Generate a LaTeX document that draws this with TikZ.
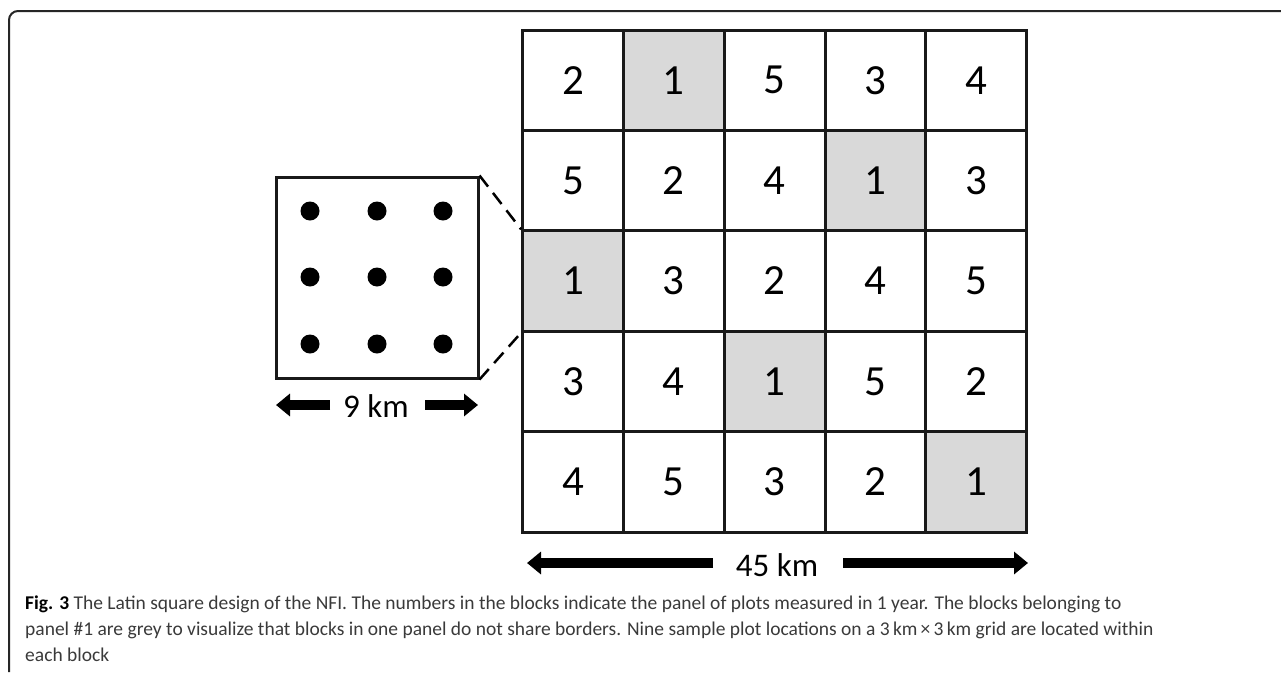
\documentclass[tikz,border=0pt]{standalone}
\usepackage{fontspec}
\setmainfont{Carlito}
\newfontfamily\capfont{Carlito}
\usetikzlibrary{arrows.meta}
\definecolor{cellgrey}{HTML}{D9D9D9}
\definecolor{captxt}{HTML}{3A3A3A}
\tikzset{
  cell/.style={draw=black!90, line width=3pt, minimum width=100.8pt, minimum height=100.4pt, inner sep=0pt, font=\fontsize{43}{43}\selectfont},
  hl/.style={fill=cellgrey},
  dot/.style={circle, fill=black, minimum size=19pt, inner sep=0pt},
  zoombox/.style={draw=black!90, line width=3pt, minimum width=202pt, minimum height=201pt, inner sep=0pt},
  fatarrow/.style={line width=10.5pt, -{Triangle[length=14pt,width=22pt]}},
  leader/.style={dash pattern=on 14pt off 8pt, line width=2.5pt},
  lbl/.style={font=\fontsize{33}{33}\selectfont, inner sep=0pt},
  capline/.style={anchor=base west, inner sep=0pt, text=captxt, font=\capfont\fontsize{19.5}{19.5}\selectfont}
}
\begin{document}
\begin{tikzpicture}[x=1pt,y=-1pt]
\useasboundingbox (0,0) rectangle (1281,672);
\fill[white] (0,0) rectangle (1281,672);
% frame
\draw[line width=2pt, black!85, rounded corners=9pt] (9,672) -- (9,11) -- (1281,11);
% grid
\foreach \row/\vals/\g in {1/{2,1,5,3,4}/2, 2/{5,2,4,1,3}/4, 3/{1,3,2,4,5}/1, 4/{3,4,1,5,2}/3, 5/{4,5,3,2,1}/5}{
  \foreach \v [count=\col] in \vals {
    \ifnum\col=\g
      \node[cell,hl] (c-\row-\col) at ({522.6+100.8*(\col-0.5)},{30+100.4*(\row-0.5)}) {\v};
    \else
      \node[cell] (c-\row-\col) at ({522.6+100.8*(\col-0.5)},{30+100.4*(\row-0.5)}) {\v};
    \fi
  }
}
% zoom box
\node[zoombox] (zb) at (377,277.5) {};
\foreach \i/\x in {1/310,2/377,3/443}{
  \foreach \j/\y in {1/211,2/277,3/344}{
    \node[dot] (d-\i-\j) at (\x,\y) {};
  }
}
\draw[leader] (zb.north east) -- (c-3-1.north west);
\draw[leader] (zb.south east) -- (c-3-1.south west);
% 9 km
\node[lbl] (nine) at (376,406) {9 km};
\coordinate (n1) at (330,405);
\coordinate (n1t) at (276,405);
\coordinate (n2) at (425,405);
\coordinate (n2t) at (478,405);
\draw[fatarrow] (n1) -- (n1t);
\draw[fatarrow] (n2) -- (n2t);
% 45 km
\node[lbl] (ff) at (777,565) {45 km};
\coordinate (f1) at (713,563);
\coordinate (f1t) at (527,563);
\coordinate (f2) at (843,563);
\coordinate (f2t) at (1028,563);
\draw[fatarrow] (f1) -- (f1t);
\draw[fatarrow] (f2) -- (f2t);
% caption
\node[capline] (cap1) at (25,609) {\textbf{\color{black}Fig. 3} The Latin square design of the NFI. The numbers in the blocks indicate the panel of plots measured in 1 year. The blocks belonging to};
\node[capline] (cap2) at (25,635) {panel \#1 are grey to visualize that blocks in one panel do not share borders. Nine sample plot locations on a 3\,km\,×\,3\,km grid are located within};
\node[capline] (cap3) at (25,661) {each block};
\end{tikzpicture}
\end{document}
